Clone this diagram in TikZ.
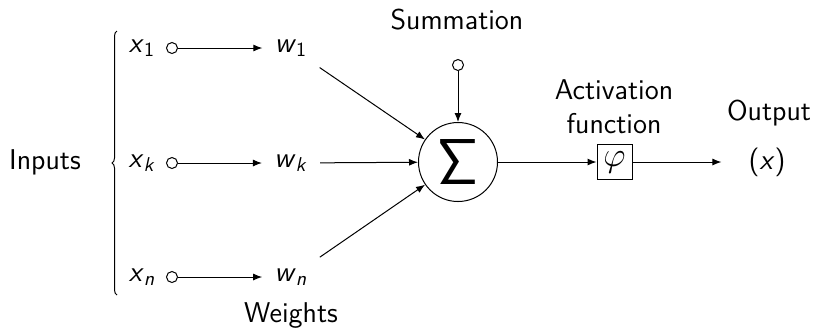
\documentclass[tikz,border=0pt]{standalone}
\usetikzlibrary{arrows.meta,decorations.pathreplacing}
\renewcommand{\familydefault}{\sfdefault}
\tikzset{
  pin/.style={circle,draw,inner sep=0pt,minimum size=5.5pt},
  wt/.style={inner sep=6pt},
  conn/.style={-{Latex[length=4.5pt,width=3.5pt]}}
}
\begin{document}
\begin{tikzpicture}[x=0.5pt,y=-0.5pt,line width=0.5pt,font=\fontsize{14.3}{17}\selectfont]
    \useasboundingbox (0,0) rectangle (814,329);
    % inputs
    \node (inputs) at (45,162) {Inputs};
    \draw[decorate,decoration={brace,amplitude=2.5pt}] (117,295) -- (117,31);
    \node (x1) at (142,48) {\textit{x}\textsubscript{1}};
    \node (xk) at (142,163) {\textit{x}\textsubscript{\textit{k}}};
    \node (xn) at (142,277) {\textit{x}\textsubscript{\textit{n}}};
    \node[pin] (p1) at (172,48) {};
    \node[pin] (pk) at (172,163) {};
    \node[pin] (pn) at (172,277) {};
    % weights
    \node[wt] (w1) at (291,48) {\textit{w}\textsubscript{1}};
    \node[wt] (wk) at (291,163) {\textit{w}\textsubscript{\textit{k}}};
    \node[wt] (wn) at (291,277) {\textit{w}\textsubscript{\textit{n}}};
    \node (weights) at (291,315) {Weights};
    \draw[conn] (p1) -- (w1);
    \draw[conn] (pk) -- (wk);
    \draw[conn] (pn) -- (wn);
    % summation
    \node[circle,draw,minimum size=39.5pt,inner sep=0pt] (sum) at (458,162)
        {\resizebox{20.5pt}{22.5pt}{$\mathsf{\Sigma}$}};
    \node (summation) at (457,20) {Summation};
    \node[pin] (bias) at (458,65) {};
    \draw[conn] (bias) -- (sum);
    \draw[conn] (w1) -- (sum);
    \draw[conn] (wk) -- (sum);
    \draw[conn] (wn) -- (sum);
    % activation
    \node[draw,minimum width=17.5pt,minimum height=17.5pt,inner sep=0pt] (phi) at (614.5,162)
        {\fontsize{18}{18}\selectfont$\varphi$};
    \node[align=center] (act) at (614,107) {Activation\\function};
    \draw[conn] (sum) -- (phi);
    % output
    \node (output) at (769,113) {Output};
    \node (out) at (767,162) {(\textit{x})};
    \draw[conn,shorten >=10pt] (phi) -- (out);
\end{tikzpicture}
\end{document}
